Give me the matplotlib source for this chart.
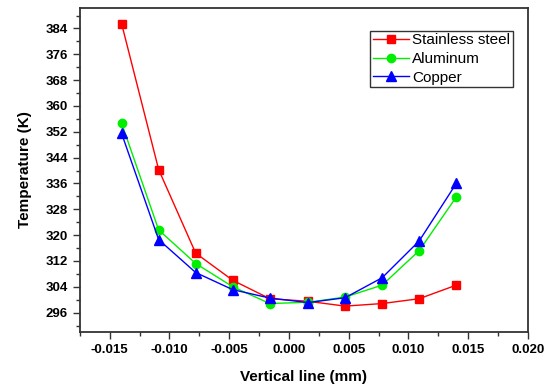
import numpy as np
import matplotlib.pyplot as plt
from matplotlib.ticker import MultipleLocator

plt.rcParams['font.family'] = ['Liberation Sans', 'DejaVu Sans']

# data
x_pos = [-0.014, -0.0109, -0.0078, -0.0047, -0.0016, 0.0016, 0.0047, 0.0078, 0.0109, 0.014]
t_steel = [385.5, 340.3, 314.4, 306.0, 300.3, 299.5, 298.0, 298.8, 300.3, 304.5]
t_alu = [354.7, 321.6, 311.2, 304.0, 298.8, 299.2, 300.8, 304.5, 315.2, 331.8]
t_copper = [351.5, 318.6, 308.4, 303.1, 300.5, 299.1, 300.6, 306.8, 318.2, 336.0]

fig = plt.figure(figsize=(5.5, 3.86), dpi=100)
ax = fig.add_axes([0.145, 0.14, 0.815, 0.839])

ax.plot(x_pos, t_steel, color='red', marker='s', markersize=5.5, lw=1, label='Stainless steel')
ax.plot(x_pos, t_alu, color='#00ee00', marker='o', markersize=6, lw=1, label='Aluminum')
ax.plot(x_pos, t_copper, color='blue', marker='^', markersize=7, lw=1, label='Copper')

ax.set_xlim(-0.0175, 0.020)
ax.set_ylim(290, 390.3)
ax.xaxis.set_major_locator(MultipleLocator(0.005))
ax.xaxis.set_minor_locator(MultipleLocator(0.0025))
ax.yaxis.set_minor_locator(MultipleLocator(4))
ax.set_yticks(np.arange(296, 390, 8))
ax.xaxis.set_major_formatter(plt.FuncFormatter(lambda v, p: '%.3f' % v))

ax.tick_params(which='both', direction='out', top=False, right=False, color='#333333')
ax.tick_params(which='major', length=5, width=1)
ax.tick_params(which='minor', length=3, width=1)
for lab in ax.get_xticklabels() + ax.get_yticklabels():
    lab.set_fontweight('bold')
    lab.set_fontsize(9.5)
for s in ax.spines.values():
    s.set_linewidth(1.3)
    s.set_color('#333333')

ax.set_xlabel('Vertical line (mm)', fontsize=11, fontweight='bold', labelpad=10)
ax.set_ylabel('Temperature (K)', fontsize=11, fontweight='bold', labelpad=10)

leg = ax.legend(loc='upper right', bbox_to_anchor=(0.966, 0.929), fontsize=11,
                frameon=True, fancybox=False, borderpad=0.15, labelspacing=0.3,
                handlelength=2.4, handletextpad=0.2, borderaxespad=0)
leg.get_frame().set_edgecolor('black')
leg.get_frame().set_linewidth(1)

plt.savefig('out.png', dpi=100)
